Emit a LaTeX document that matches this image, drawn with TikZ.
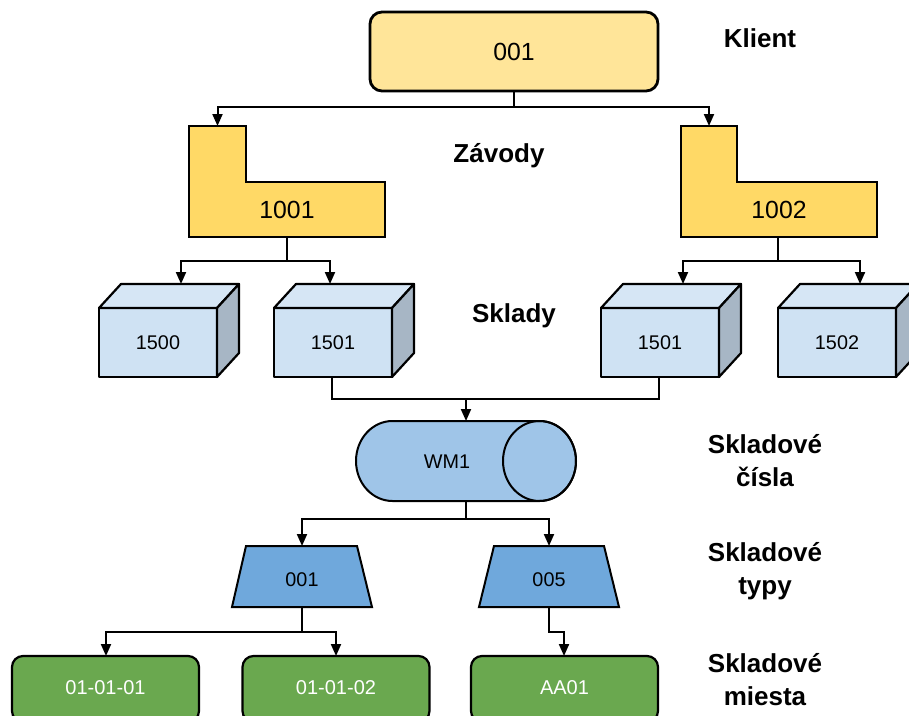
\documentclass[tikz,border=0pt]{standalone}
\usepackage{fontspec}
\setmainfont{Liberation Sans}
\usetikzlibrary{arrows.meta}
\definecolor{clientfill}{HTML}{FFE599}
\definecolor{plantfill}{HTML}{FFD966}
\definecolor{cubefront}{HTML}{CFE2F3}
\definecolor{cubetop}{HTML}{D6E6F5}
\definecolor{cubeside}{HTML}{A7B6C5}
\definecolor{cylfill}{HTML}{9FC5E8}
\definecolor{trapfill}{HTML}{6FA8DC}
\definecolor{binfill}{HTML}{6AA84F}
\newcommand\cubebox[3]{% #1 front-left x, #2 name, #3 text
  \fill[cubefront] (#1,308) rectangle ++(118,69);
  \draw[cubeedge,fill=cubetop] (#1,308) -- ++(22,-24) -- ++(118,0) -- ++(-22,24) -- cycle;
  \draw[cubeedge,fill=cubeside] (#1+118,308) -- ++(22,-24) -- ++(0,69) -- ++(-22,24) -- cycle;
  \draw[cubeedge] (#1,308) rectangle ++(118,69);
  \node[cubetext] (#2) at (#1+59,342.5) {#3};
}
\begin{document}
\begin{tikzpicture}[x=1pt,y=-1pt,
  line/.style={draw=black,line width=2pt},
  arr/.style={line,-{Triangle[length=12pt,width=10pt]}},
  thickedge/.style={draw=black,line width=2.8pt,line join=miter},
  cubeedge/.style={draw=black,line width=2.2pt,line join=round},
  cubetext/.style={font=\fontsize{19.8}{23}\selectfont},
  bigtext/.style={font=\fontsize{24.8}{29}\selectfont},
  lbl/.style={font=\fontsize{26}{33}\selectfont\bfseries,align=center},
  bintext/.style={font=\fontsize{20}{24}\selectfont,text=white},
  binbox/.style={draw=black,line width=2.2pt,fill=binfill,rounded corners=11pt},
]
\useasboundingbox (0,0) rectangle (909,715);

% ---- client
\draw[thickedge,fill=clientfill,rounded corners=12pt] (370,12) rectangle (658,91);
\node[bigtext] (client) at (514,51.5) {001};
\coordinate (clientout) at (514,91);

% ---- plants
\draw[thickedge,fill=plantfill] (189,126) -- (246,126) -- (246,182) -- (385,182) -- (385,237) -- (189,237) -- cycle;
\node[bigtext] (p1) at (287,210) {1001};
\coordinate (p1in) at (217.5,126);
\coordinate (p1out) at (287,237);

\draw[thickedge,fill=plantfill] (681,126) -- (737,126) -- (737,182) -- (877,182) -- (877,237) -- (681,237) -- cycle;
\node[bigtext] (p2) at (779,210) {1002};
\coordinate (p2in) at (709,126);
\coordinate (p2out) at (778,237);

\draw[arr] (clientout) -- ++(0,16) -| (p1in);
\draw[arr] (clientout) -- ++(0,16) -| (p2in);

% ---- storage locations
\cubebox{99}{s1500}{1500}
\cubebox{274}{s1501a}{1501}
\cubebox{601}{s1501b}{1501}
\cubebox{778}{s1502}{1502}
\coordinate (s1500in) at (181,284);
\coordinate (s1501ain) at (330,284);
\coordinate (s1501bin) at (683,284);
\coordinate (s1502in) at (860,284);
\coordinate (s1501aout) at (332,377);
\coordinate (s1501bout) at (659,377);

\draw[arr] (p1out) -- ++(0,24) -| (s1500in);
\draw[arr] (p1out) -- ++(0,24) -| (s1501ain);
\draw[arr] (p2out) -- ++(0,24) -| (s1501bin);
\draw[arr] (p2out) -- ++(0,24) -| (s1502in);

% ---- warehouse number (horizontal cylinder)
\draw[line,fill=cylfill] (539.5,421) -- (392.5,421)
  .. controls (372.3,421) and (356,438.9) .. (356,461)
  .. controls (356,483.1) and (372.3,501) .. (392.5,501)
  -- (539.5,501)
  .. controls (559.7,501) and (576,483.1) .. (576,461)
  .. controls (576,438.9) and (559.7,421) .. (539.5,421) -- cycle;
\draw[line] (539.5,461) ellipse [x radius=36.5pt, y radius=40pt];
\node[cubetext] (wm) at (447,462) {WM1};
\coordinate (wmin) at (466,421);
\coordinate (wmout) at (466,501);
\coordinate (wmjoin) at (466,399);

\draw[line] (s1501aout) |- (wmjoin);
\draw[line] (s1501bout) |- (wmjoin);
\draw[arr] (wmjoin) -- (wmin);

% ---- storage types
\draw[line,fill=trapfill,line join=miter] (246,546) -- (357,546) -- (372,607) -- (232,607) -- cycle;
\node[cubetext] (t1) at (302,580) {001};
\coordinate (t1in) at (302,546);
\coordinate (t1out) at (302,607);
\draw[line,fill=trapfill,line join=miter] (494,546) -- (604,546) -- (619,607) -- (479,607) -- cycle;
\node[cubetext] (t2) at (549,580) {005};
\coordinate (t2in) at (549,546);
\coordinate (t2out) at (549,607);

\draw[arr] (wmout) -- ++(0,18) -| (t1in);
\draw[arr] (wmout) -- ++(0,18) -| (t2in);

% ---- storage bins
\draw[binbox] (12,656) rectangle (199,722);
\node[bintext] (b1) at (105.5,688) {01-01-01};
\draw[binbox] (242.5,656) rectangle (429.5,722);
\node[bintext] (b2) at (336,688) {01-01-02};
\draw[binbox] (471,656) rectangle (658,722);
\node[bintext] (b3) at (564.5,688) {AA01};
\coordinate (b1in) at (106,656);
\coordinate (b2in) at (336,656);
\coordinate (b3in) at (564,656);

\draw[arr] (t1out) -- ++(0,25) -| (b1in);
\draw[arr] (t1out) -- ++(0,25) -| (b2in);
\draw[arr] (t2out) -- ++(0,25) -| (b3in);

% ---- level labels
\node[lbl,anchor=base] (lklient) at (760,47) {Klient};
\node[lbl,anchor=base] (lzavody) at (499,162) {Závody};
\node[lbl,anchor=base] (lsklady) at (514,322) {Sklady};
\node[lbl] (lcisla) at (765,461) {Skladové\\čísla};
\node[lbl] (ltypy) at (765,571.5) {Skladové\\typy};
\node[lbl] (lmiesta) at (765,680) {Skladové\\miesta};
\end{tikzpicture}
\end{document}
